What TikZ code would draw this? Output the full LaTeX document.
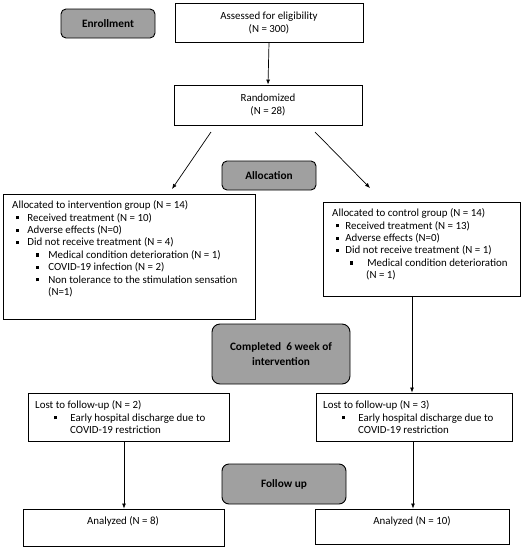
\documentclass[tikz,border=0pt]{standalone}
\usepackage{fontspec}
\setmainfont{Carlito}
\usetikzlibrary{arrows.meta}
\definecolor{boxgray}{RGB}{160,160,160}
\newcommand\bul{\rule[1.7pt]{3.2pt}{3.2pt}}
\begin{document}
\begin{tikzpicture}[x=1pt,y=-1pt,
  txt/.style={font=\fontsize{10.9}{12.4}\selectfont},
  wbox/.style={draw=black,line width=0.9pt,fill=white,rectangle,inner sep=0pt},
  gbox/.style={draw=black,line width=0.9pt,fill=boxgray,rounded corners=5pt,inner sep=0pt,font=\fontsize{11.3}{14.5}\selectfont\bfseries,align=center},
  arr/.style={line width=0.7pt,-{Latex[length=5pt,width=4pt]}},
  lst/.style={txt,anchor=north west,inner sep=0pt,align=left}]
\useasboundingbox (0,0) rectangle (525,550);
% boxes
\node[gbox,minimum width=94pt,minimum height=29pt] (enr) at (108,23.5) {Enrollment};
\node[wbox,minimum width=188pt,minimum height=39pt,txt,align=center,font=\fontsize{10.9}{13.3}\selectfont] (ass) at (269,23) {Assessed for eligibility\\(N = 300)};
\node[wbox,minimum width=188pt,minimum height=40pt,txt,align=center,font=\fontsize{10.9}{13.3}\selectfont] (ran) at (268,105) {Randomized\\(N = 28)};
\node[gbox,minimum width=94pt,minimum height=29pt] (all) at (269,175.5) {Allocation};
\node[wbox,minimum width=252pt,minimum height=125pt] (int) at (129,256.5) {};
\node[lst] (intt) at (12,200.5) {Allocated to intervention group (N = 14)\\
\hspace*{3.5pt}\bul\hspace*{8.5pt}Received treatment (N = 10)\\
\hspace*{3.5pt}\bul\hspace*{8.5pt}Adverse effects (N=0)\\
\hspace*{3.5pt}\bul\hspace*{8.5pt}Did not receive treatment (N = 4)\\
\hspace*{23.5pt}\bul\hspace*{9.5pt}Medical condition deterioration (N = 1)\\
\hspace*{23.5pt}\bul\hspace*{9.5pt}COVID-19 infection (N = 2)\\
\hspace*{23.5pt}\bul\hspace*{9.5pt}Non tolerance to the stimulation sensation\\
\hspace*{36pt}(N=1)};
\node[wbox,minimum width=197pt,minimum height=94pt] (con) at (421.5,249) {};
\node[lst] (cont) at (332,208.5) {Allocated to control group (N = 14)\\
\hspace*{3.5pt}\bul\hspace*{6.5pt}Received treatment (N = 13)\\
\hspace*{3.5pt}\bul\hspace*{6.5pt}Adverse effects (N=0)\\
\hspace*{3.5pt}\bul\hspace*{6.5pt}Did not receive treatment (N = 1)\\
\hspace*{17.5pt}\bul\hspace*{14.5pt}Medical condition deterioration\\
\hspace*{34pt}(N = 1)};
\node[gbox,minimum width=138pt,minimum height=60pt,rounded corners=8pt] (com) at (281,354) {Completed\ \ 6 week of\\intervention};
\node[wbox,minimum width=201pt,minimum height=48pt] (lol) at (128.5,417) {};
\node[lst] (lolt) at (35,400.5) {Lost to follow-up (N = 2)\\
\hspace*{18.5pt}\bul\hspace*{13.5pt}Early hospital discharge due to\\
\hspace*{35pt}COVID-19 restriction};
\node[wbox,minimum width=196pt,minimum height=48pt] (lor) at (414,417) {};
\node[lst] (lort) at (323,400.5) {Lost to follow-up (N = 3)\\
\hspace*{18.5pt}\bul\hspace*{13.5pt}Early hospital discharge due to\\
\hspace*{35pt}COVID-19 restriction};
\node[gbox,minimum width=124pt,minimum height=40pt,rounded corners=7pt] (fol) at (284,484) {Follow up};
\node[wbox,minimum width=201pt,minimum height=37pt] (anl) at (123.5,527.5) {};
\node[txt,inner sep=0pt] (anlt) at (123,521) {Analyzed (N = 8)};
\node[wbox,minimum width=194pt,minimum height=35pt] (anr) at (412,526.5) {};
\node[txt,inner sep=0pt] (anrt) at (412,521) {Analyzed (N = 10)};
% connectors
\coordinate (rl) at (211,132);
\coordinate (rr) at (315,132);
\coordinate (il) at (172,189);
\coordinate (ir) at (370,188);
\draw[arr] (ass.south) -- (ran.north);
\draw[arr] (rl) -- (il);
\draw[arr] (rr) -- (ir);
\draw[arr] (con.south -| 412,0) -- (lor.north -| 412,0);
\draw[arr] (lol.south -| 124,0) -- (anl.north -| 124,0);
\draw[arr] (lor.south -| 413,0) -- (anr.north -| 413,0);
\end{tikzpicture}
\end{document}
